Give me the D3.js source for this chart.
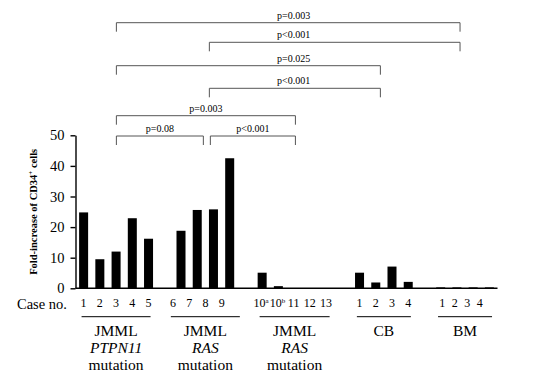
<!DOCTYPE html>
<html lang="en">
<head>
  <meta charset="UTF-8">
  <title>Fold-increase of CD34+ cells</title>
  <script src="https://d3js.org/d3.v7.min.js"></script>
  <style>
    body { margin: 0; background: #fff; }
    svg text { font-family: "Liberation Serif", "Times New Roman", "DejaVu Serif", serif; fill: #000; }
  </style>
</head>
<body>
<div id="chart"></div>
<script>
  // data
  var groupNames = [["JMML", "PTPN11", "mutation"], ["JMML", "RAS", "mutation"], ["JMML", "RAS", "mutation"], ["CB"], ["BM"]];
  var caseLabels = [["1", "2", "3", "4", "5"], ["6", "7", "8", "9"], ["10a", "10b", "11", "12", "13"], ["1", "2", "3", "4"], ["1", "2", "3", "4"]];
  var foldValues = [[24.8, 9.5, 12.0, 22.9, 16.2], [18.8, 25.6, 25.8, 42.5], [5.1, 0.7, 0, 0, 0], [5.1, 1.9, 7.1, 2.1], [0.3, 0.3, 0.3, 0.3]];
  var yTicks = [0, 10, 20, 30, 40, 50];
  var comparisons = [[0, 4], [1, 4], [0, 3], [1, 3], [0, 2], [0, 1], [1, 2]];
  var pLabels = ["p=0.003", "p<0.001", "p=0.025", "p<0.001", "p=0.003", "p=0.08", "p<0.001"];

  // layout only
  var labelShift = [0, -8, -1, 0, -4];
  var labelSquash = [1, 1, 1, 1, 0.77];
  var underlineW = [69, 69, 70, 54, 54];
  var anchorNudge = [0.3, 4, 0.8, -3.5, -5];
  var bracketY = [22.7, 42.3, 65.7, 88.3, 115.7, 136, 136];
  var italicLine = [true, true, true, false, false];

  var svg = d3.select("#chart").append("svg")
    .attr("width", 544)
    .attr("height", 373);

  // one slot per case, one empty slot between groups
  var slots = [];
  caseLabels.forEach(function(cases, g) {
    cases.forEach(function(c, i) { slots.push(g + "-" + i); });
    if (g < caseLabels.length - 1) slots.push("gap" + g);
  });

  var x = d3.scaleBand()
    .domain(slots)
    .range([75.5, 497.5])
    .paddingInner(0.445)
    .paddingOuter(0.2225);

  var y = d3.scaleLinear()
    .domain([0, 50])
    .range([288.3, 135.3]);

  var cx = function(g, i) { return x(g + "-" + i) + x.bandwidth() / 2; };
  var groupCenter = function(g) {
    return (cx(g, 0) + cx(g, caseLabels[g].length - 1)) / 2;
  };

  // bars
  var bars = [];
  foldValues.forEach(function(vals, g) {
    vals.forEach(function(v, i) { bars.push({ g: g, i: i, v: v }); });
  });
  svg.append("g").selectAll("rect")
    .data(bars)
    .join("rect")
    .attr("x", function(d) { return x(d.g + "-" + d.i); })
    .attr("y", function(d) { return y(d.v); })
    .attr("width", x.bandwidth())
    .attr("height", function(d) { return y(0) - y(d.v); })
    .attr("fill", "#000");

  // y axis
  var yAxis = svg.append("g")
    .attr("transform", "translate(75.5,0)")
    .call(d3.axisLeft(y).tickValues(yTicks).tickSize(5).tickSizeOuter(0).tickPadding(6));
  yAxis.selectAll("path, line").attr("stroke", "#000").attr("stroke-width", 1.4);
  yAxis.selectAll("text")
    .attr("font-size", 14.5)
    .attr("fill", "#000");

  // baseline
  svg.append("line")
    .attr("x1", x.range()[0]).attr("x2", x.range()[1])
    .attr("y1", y(0)).attr("y2", y(0))
    .attr("stroke", "#000").attr("stroke-width", 1.4);

  // y title
  var yt = svg.append("text")
    .attr("transform", "translate(37," + y(25) + ") rotate(-90)")
    .attr("text-anchor", "middle")
    .attr("font-size", 10.5)
    .attr("font-weight", "bold");
  yt.append("tspan").text("Fold-increase of CD34");
  yt.append("tspan").attr("font-size", 7).attr("dy", -4).text("+");
  yt.append("tspan").attr("dy", 4).text(" cells");

  // case row
  svg.append("text")
    .attr("x", 17).attr("y", 309)
    .attr("font-size", 14.5)
    .text("Case no.");

  var caseRows = [];
  caseLabels.forEach(function(cases, g) {
    cases.forEach(function(c, i) {
      var px = groupCenter(g) + (cx(g, i) - groupCenter(g)) * labelSquash[g] + labelShift[g];
      caseRows.push({ label: c, px: px });
    });
  });
  var ct = svg.append("g").selectAll("text")
    .data(caseRows)
    .join("text")
    .attr("x", function(d) { return d.px; })
    .attr("y", 307.3)
    .attr("text-anchor", "middle")
    .attr("font-size", 12);
  ct.append("tspan").text(function(d) { return d.label.match(/^\d+/)[0]; });
  ct.filter(function(d) { return /[a-z]$/.test(d.label); })
    .append("tspan")
    .attr("font-size", 7)
    .attr("dy", -4)
    .text(function(d) { return d.label.slice(-1); });

  // group underlines and names
  groupNames.forEach(function(lines, g) {
    var c = groupCenter(g);
    svg.append("line")
      .attr("x1", c - underlineW[g] / 2).attr("x2", c + underlineW[g] / 2)
      .attr("y1", 316.7).attr("y2", 316.7)
      .attr("stroke", "#000").attr("stroke-width", 1);
    lines.forEach(function(t, k) {
      svg.append("text")
        .attr("x", c).attr("y", 336 + k * 17)
        .attr("text-anchor", "middle")
        .attr("font-size", 15.5)
        .attr("font-style", k === 1 && italicLine[g] ? "italic" : null)
        .text(t);
    });
  });

  // significance brackets
  var br = svg.append("g");
  comparisons.forEach(function(pair, k) {
    var x1 = groupCenter(pair[0]) + anchorNudge[pair[0]];
    var x2 = groupCenter(pair[1]) + anchorNudge[pair[1]];
    if (k === 5) x2 -= 6;   // bottom pair shares group 2
    if (k === 6) x1 += 1;
    var yy = bracketY[k];
    br.append("path")
      .attr("d", "M" + x1 + "," + (yy + 9) + "V" + yy + "H" + x2 + "V" + (yy + 9))
      .attr("fill", "none")
      .attr("stroke", "#555")
      .attr("stroke-width", 1);
    var lx = k < 4 ? groupCenter(2) - 1 : (x1 + x2) / 2;
    br.append("text")
      .attr("x", lx).attr("y", yy - 4)
      .attr("text-anchor", "middle")
      .attr("font-size", 10)
      .text(pLabels[k]);
  });
</script>
</body>
</html>
